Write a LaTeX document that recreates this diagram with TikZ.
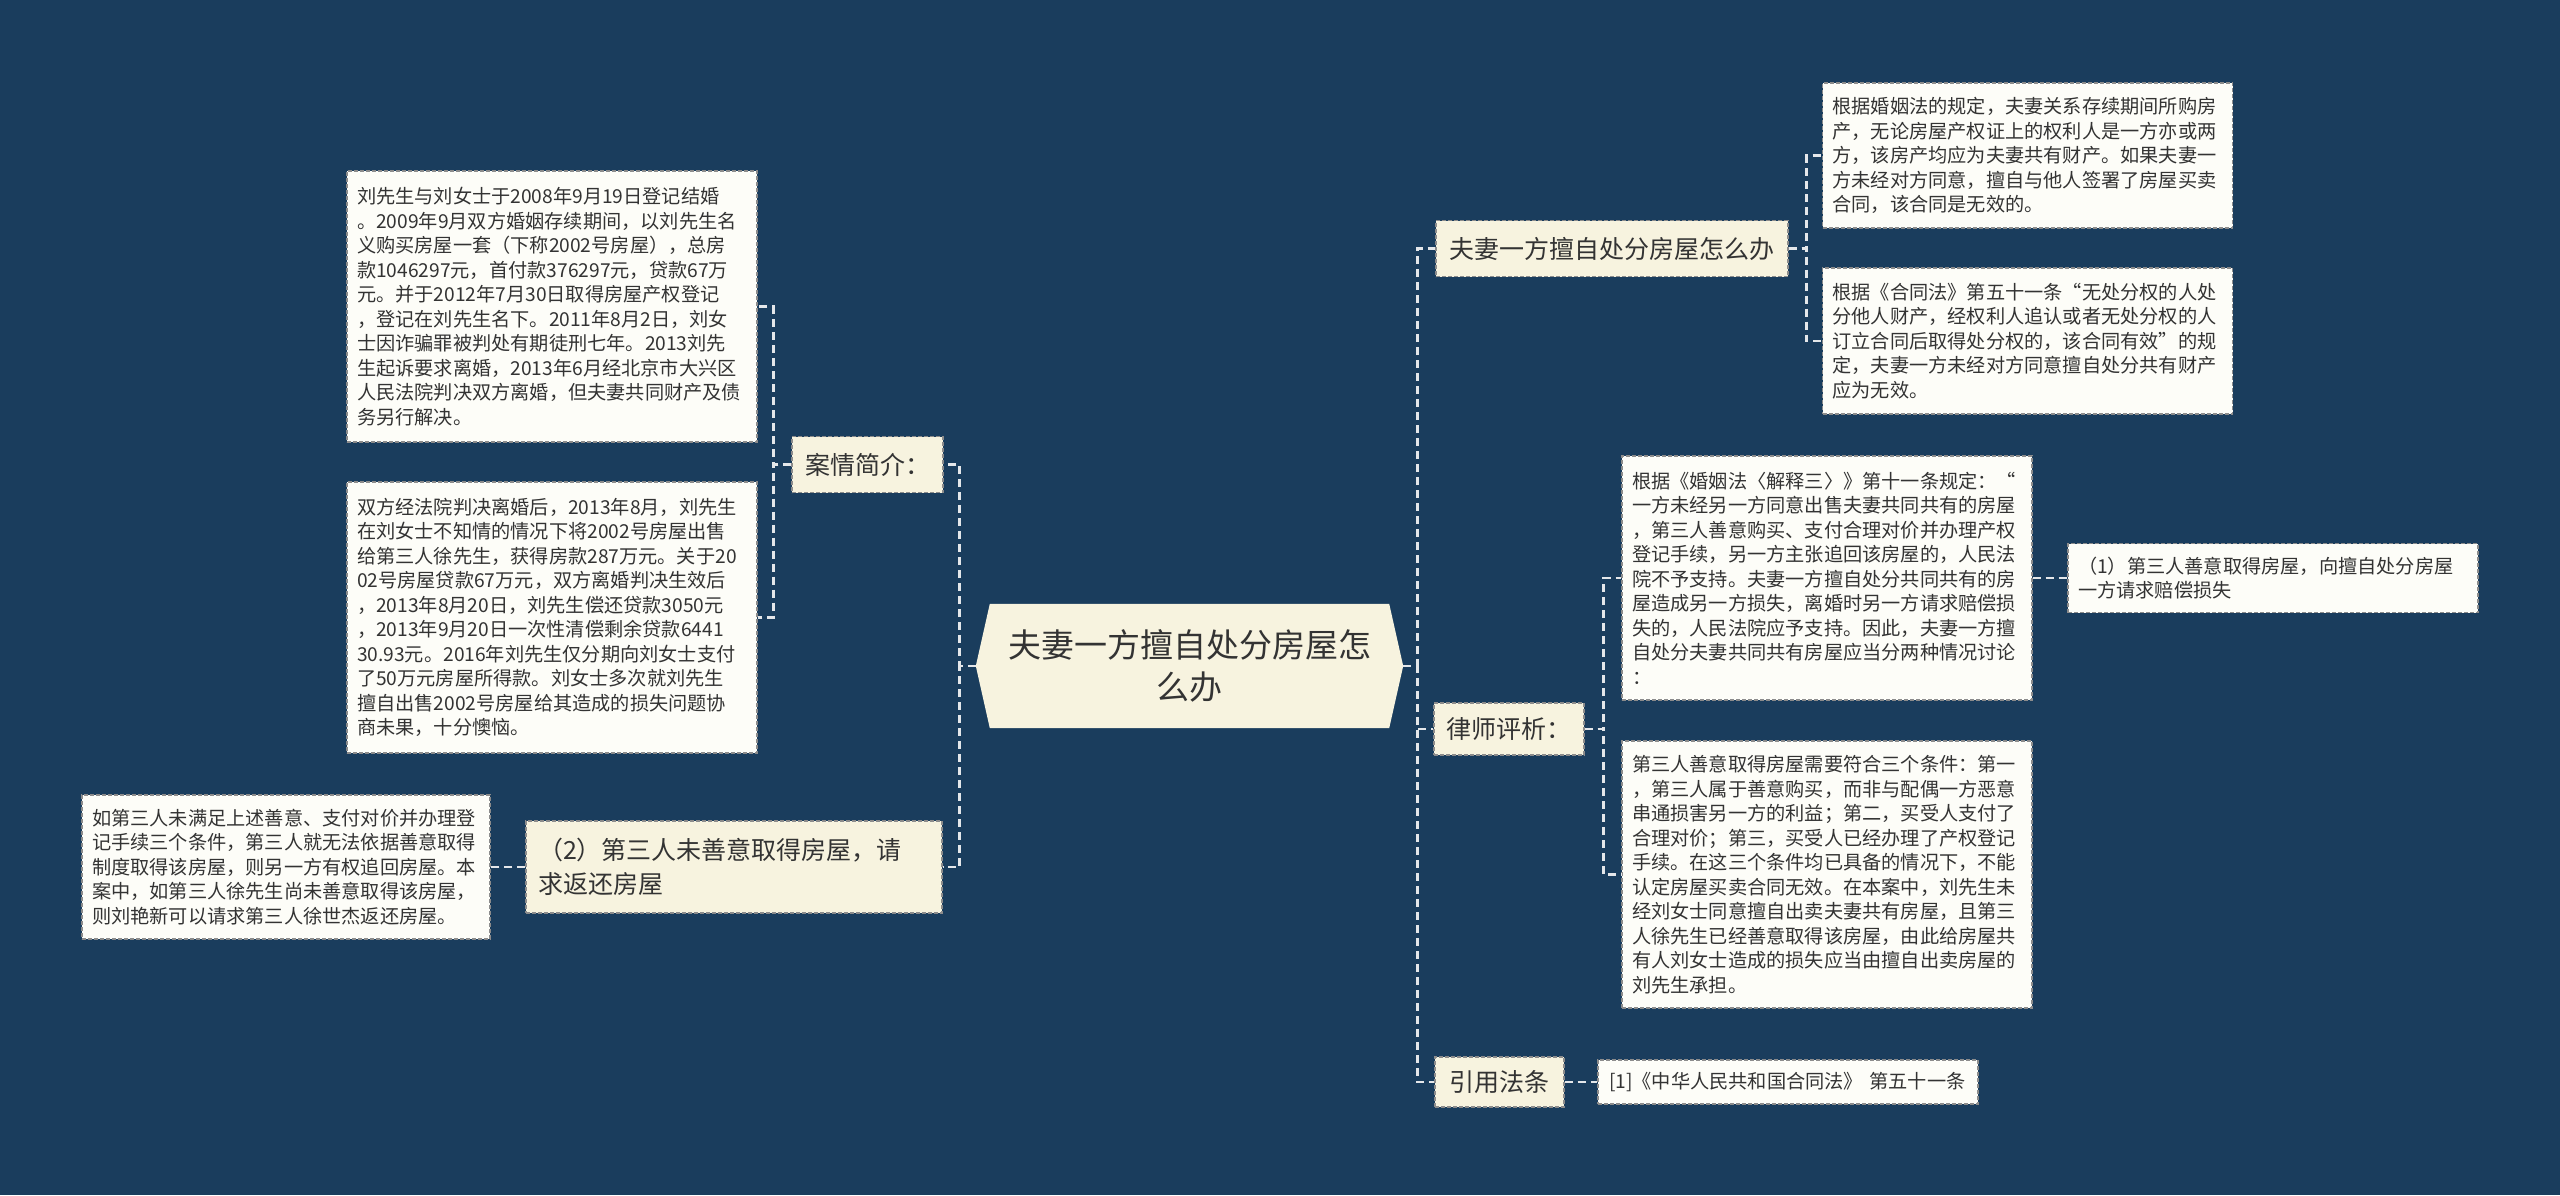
\documentclass[tikz,border=0pt]{standalone}
\usepackage{fontspec}
\setmainfont{Noto Sans CJK SC}
\usetikzlibrary{backgrounds}
\definecolor{bgnavy}{HTML}{1A3D5D}
\definecolor{branchfill}{HTML}{F7F3DF}
\definecolor{leaffill}{HTML}{FDFDF8}
\definecolor{inkgray}{HTML}{333333}
\definecolor{edgegray}{HTML}{8C8C8C}
\definecolor{linkwhite}{HTML}{E4E7EA}

\begin{document}
\begin{tikzpicture}[
    x=1pt, y=-1pt, % pixel units, (0,0) at top left
    box/.style={draw=edgegray, dash pattern=on 4pt off 2pt, line width=1.2pt, text=inkgray, inner sep=0pt, align=left},
    branch/.style={box, fill=branchfill, font=\fontsize{25}{34}\selectfont, minimum height=56pt},
    leaf/.style={box, fill=leaffill, font=\fontsize{19.2}{24.5}\selectfont, minimum width=410pt, text width=390pt},
    link/.style={linkwhite, line width=2.8pt, dash pattern=on 8pt off 5pt}
]
\useasboundingbox (0,0) rectangle (2560,1195);

% root
\node[font=\fontsize{33}{42}\selectfont, text=inkgray, align=center, minimum width=427pt, minimum height=124pt, inner sep=0pt] (root) at (1189.5,666) {夫妻一方擅自处分房屋怎\\么办};

% left side
\node[branch, minimum width=151pt] (anli) at (867.5,464.5) {案情简介：};
\node[leaf, minimum height=271pt] (anliA) at (552,306.5) {刘先生与刘女士于2008年9月19日登记结婚\\。2009年9月双方婚姻存续期间，以刘先生名\\义购买房屋一套（下称2002号房屋），总房\\款1046297元，首付款376297元，贷款67万\\元。并于2012年7月30日取得房屋产权登记\\，登记在刘先生名下。2011年8月2日，刘女\\士因诈骗罪被判处有期徒刑七年。2013刘先\\生起诉要求离婚，2013年6月经北京市大兴区\\人民法院判决双方离婚，但夫妻共同财产及债\\务另行解决。};
\node[leaf, minimum height=271pt] (anliB) at (552,617.5) {双方经法院判决离婚后，2013年8月，刘先生\\在刘女士不知情的情况下将2002号房屋出售\\给第三人徐先生，获得房款287万元。关于20\\02号房屋贷款67万元，双方离婚判决生效后\\，2013年8月20日，刘先生偿还贷款3050元\\，2013年9月20日一次性清偿剩余贷款6441\\30.93元。2016年刘先生仅分期向刘女士支付\\了50万元房屋所得款。刘女士多次就刘先生\\擅自出售2002号房屋给其造成的损失问题协\\商未果，十分懊恼。};
\node[branch, minimum width=416pt, minimum height=92pt, text width=392pt] (qiuhuan) at (734,867) {（2）第三人未善意取得房屋，请\\求返还房屋};
\node[leaf, minimum width=408pt, text width=388pt, minimum height=144pt] (qiuhuanA) at (286,867) {如第三人未满足上述善意、支付对价并办理登\\记手续三个条件，第三人就无法依据善意取得\\制度取得该房屋，则另一方有权追回房屋。本\\案中，如第三人徐先生尚未善意取得该房屋，\\则刘艳新可以请求第三人徐世杰返还房屋。};

% right side
\node[branch, minimum width=352pt] (zenmeban) at (1612,248.5) {夫妻一方擅自处分房屋怎么办};
\node[leaf, minimum height=145pt] (hunyin) at (2027.5,155.5) {根据婚姻法的规定，夫妻关系存续期间所购房\\产，无论房屋产权证上的权利人是一方亦或两\\方，该房产均应为夫妻共有财产。如果夫妻一\\方未经对方同意，擅自与他人签署了房屋买卖\\合同，该合同是无效的。};
\node[leaf, minimum height=146pt] (hetong) at (2027.5,341) {根据《合同法》第五十一条“无处分权的人处\\分他人财产，经权利人追认或者无处分权的人\\订立合同后取得处分权的，该合同有效”的规\\定，夫妻一方未经对方同意擅自处分共有财产\\应为无效。};
\node[branch, minimum width=150pt, minimum height=52pt] (pingxi) at (1509,729) {律师评析：};
\node[leaf, minimum height=244pt] (jieshi) at (1827,578) {根据《婚姻法〈解释三〉》第十一条规定：“\\一方未经另一方同意出售夫妻共同共有的房屋\\，第三人善意购买、支付合理对价并办理产权\\登记手续，另一方主张追回该房屋的，人民法\\院不予支持。夫妻一方擅自处分共同共有的房\\屋造成另一方损失，离婚时另一方请求赔偿损\\失的，人民法院应予支持。因此，夫妻一方擅\\自处分夫妻共同共有房屋应当分两种情况讨论\\：};
\node[leaf, minimum height=267pt] (shanyi) at (1827,874.5) {第三人善意取得房屋需要符合三个条件：第一\\，第三人属于善意购买，而非与配偶一方恶意\\串通损害另一方的利益；第二，买受人支付了\\合理对价；第三，买受人已经办理了产权登记\\手续。在这三个条件均已具备的情况下，不能\\认定房屋买卖合同无效。在本案中，刘先生未\\经刘女士同意擅自出卖夫妻共有房屋，且第三\\人徐先生已经善意取得该房屋，由此给房屋共\\有人刘女士造成的损失应当由擅自出卖房屋的\\刘先生承担。};
\node[leaf, minimum height=69pt] (peichang) at (2273,578) {（1）第三人善意取得房屋，向擅自处分房屋\\一方请求赔偿损失};
\node[branch, minimum width=129pt, minimum height=50pt] (fatiao) at (1499.5,1082) {引用法条};
\node[leaf, minimum width=380pt, text width=358pt, minimum height=44pt] (hetongfa) at (1788,1082) {[1]《中华人民共和国合同法》 第五十一条};

\begin{scope}[on background layer]
\fill[bgnavy] (0,0) rectangle (2560,1195);
\fill[branchfill] (root.west) -- ([xshift=14pt]root.north west) -- ([xshift=-14pt]root.north east)
  -- (root.east) -- ([xshift=-14pt]root.south east) -- ([xshift=14pt]root.south west) -- cycle;
\end{scope}

% connectors
\draw[link] (root.west) -- ++(-16,0) |- (anli.east);
\draw[link] (root.west) -- ++(-16,0) |- (qiuhuan.east);
\draw[link] (anli.west) -- ++(-18,0) |- (anliA.east);
\draw[link] (anli.west) -- ++(-18,0) |- (anliB.east);
\draw[link] (qiuhuan.west) -- (qiuhuanA.east);
\draw[link] (root.east) -- ++(14,0) |- (zenmeban.west);
\draw[link] (root.east) -- ++(14,0) |- (pingxi.west);
\draw[link] (root.east) -- ++(14,0) |- (fatiao.west);
\draw[link] (zenmeban.east) -- ++(18,0) |- (hunyin.west);
\draw[link] (zenmeban.east) -- ++(18,0) |- (hetong.west);
\draw[link] (pingxi.east) -- ++(19,0) |- (jieshi.west);
\draw[link] (pingxi.east) -- ++(19,0) |- (shanyi.west);
\draw[link] (jieshi.east) -- (peichang.west);
\draw[link] (fatiao.east) -- (hetongfa.west);
\end{tikzpicture}
\end{document}
